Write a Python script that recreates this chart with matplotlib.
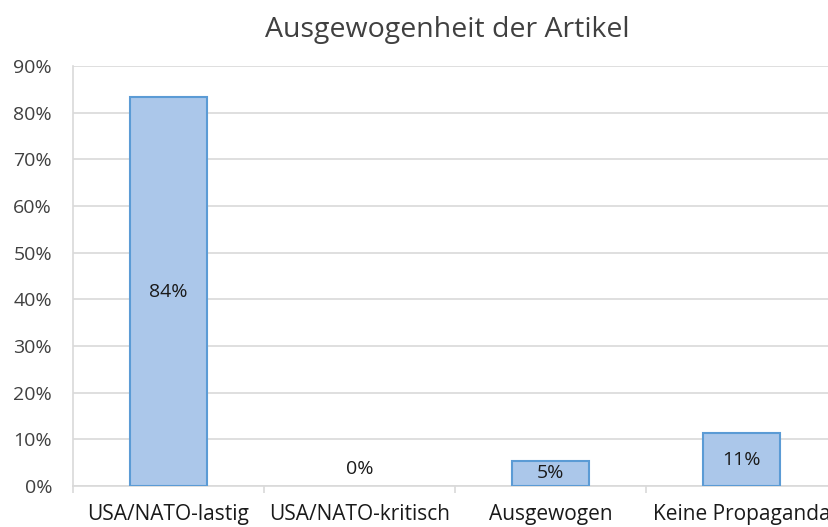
import matplotlib.pyplot as plt
from matplotlib.ticker import PercentFormatter, FixedLocator

# data
categories = ["USA/NATO-lastig", "USA/NATO-kritisch", "Ausgewogen", "Keine Propaganda"]
values = [83.3, 0.0, 5.4, 11.3]
labels = ["84%", "0%", "5%", "11%"]
yticks = [0, 10, 20, 30, 40, 50, 60, 70, 80, 90]

plt.rcParams['font.family'] = ['Open Sans', 'DejaVu Sans']
text_col = "#404040"
grid_col = "#d9d9d9"

fig = plt.figure(figsize=(8.29, 5.27), dpi=100)
ax = fig.add_axes([0.088, 0.0778, 0.9216, 0.797])

x = list(range(len(categories)))
lw = [1.5 if v > 0 else 0 for v in values]
ax.bar(x, values, width=0.40, color="#abc7ea", edgecolor="#5b9bd5", linewidth=lw, zorder=3)

for xi, v, lab in zip(x, values, labels):
    if v > 0:
        ax.text(xi, v / 2, lab, ha='center', va='center', fontsize=14, color="#1a1a1a", zorder=4)
    else:
        ax.annotate(lab, (xi, 0), xytext=(0, 17), textcoords='offset pixels',
                    ha='center', va='center', fontsize=14, color="#1a1a1a")

ax.set_xlim(-0.5, len(categories) - 0.5)
ax.set_ylim(0, 90)
ax.set_yticks(yticks)
ax.yaxis.set_major_formatter(PercentFormatter(decimals=0))
ax.yaxis.grid(True, color=grid_col, linewidth=1.2, zorder=0)
ax.set_xticks(x)
ax.set_xticklabels(categories)
ax.xaxis.set_minor_locator(FixedLocator([i - 0.5 for i in range(len(categories) + 1)]))
ax.tick_params(axis='x', which='major', length=0, pad=13, labelsize=15, labelcolor="#1a1a1a")
ax.tick_params(axis='x', which='minor', length=5, color=grid_col, width=1.2)
ax.tick_params(axis='y', length=0, pad=15, labelsize=14, labelcolor=text_col)

for s in ['top', 'right']:
    ax.spines[s].set_visible(False)
ax.spines['left'].set_color(grid_col)
ax.spines['bottom'].set_color(grid_col)
ax.spines['left'].set_linewidth(1.2)
ax.spines['bottom'].set_linewidth(1.2)

fig.text(447 / 829, 1 - 30 / 527, "Ausgewogenheit der Artikel", ha='center', va='center',
         fontsize=20.5, color=text_col)

fig.savefig("out.png", dpi=100)
